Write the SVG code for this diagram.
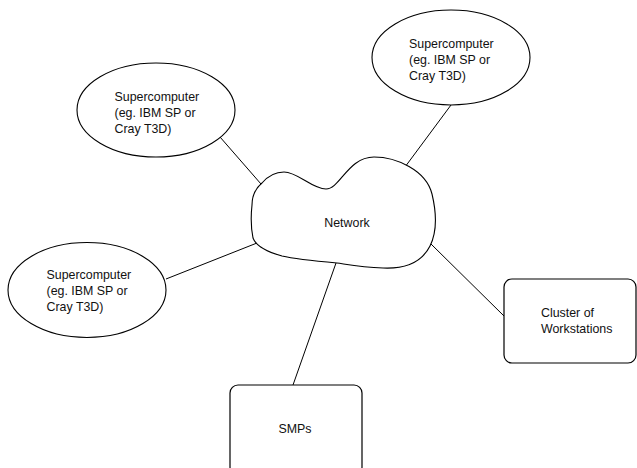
<svg xmlns="http://www.w3.org/2000/svg" width="637" height="468" viewBox="0 0 637 468">
<style>
.shape{fill:#fff;stroke:#000;stroke-width:1.1}
.box{fill:#fff;stroke:#000;stroke-width:1.2}
.conn line{stroke:#000;stroke-width:1}
text{font-family:"Liberation Sans",Arial,sans-serif;font-size:12.4px;fill:#111}
</style>
<rect width="637" height="468" fill="#fff"/>
<g id="connectors" class="conn">
<line x1="220" y1="137" x2="261" y2="184"/>
<line x1="451" y1="105" x2="405" y2="167"/>
<line x1="166" y1="279" x2="257" y2="243"/>
<line x1="431" y1="244" x2="504" y2="316"/>
<line x1="336" y1="263" x2="293" y2="385"/>
</g>
<g id="network">
<path class="shape" d="M252,205 C252,195 256,188 262,183 C268,176 276,172 284,172 C298,172 312,189 326,189 C340,189 348,157 374,157 C396,157 426,170 432,194 C437,215 437,232 430,246 C422,262 405,269 383,268 C360,267 345,264 337,263 C315,261 295,259 282,256 C268,252 256,246 253,238 C251,228 251,214 252,205 Z"/>
<text x="347" y="226.5" text-anchor="middle">Network</text>
</g>
<g id="super-top-left">
<ellipse class="shape" cx="156" cy="110" rx="79" ry="47"/>
<text x="114.5" y="100.5">Supercomputer</text>
<text x="114.5" y="116.5">(eg. IBM SP or</text>
<text x="114.5" y="132.5">Cray T3D)</text>
</g>
<g id="super-top-right">
<ellipse class="shape" cx="451" cy="57.5" rx="79" ry="47.5"/>
<text x="409" y="47.5">Supercomputer</text>
<text x="409" y="63.5">(eg. IBM SP or</text>
<text x="409" y="79.5">Cray T3D)</text>
</g>
<g id="super-bottom-left">
<ellipse class="shape" cx="87" cy="290" rx="79" ry="47.5"/>
<text x="46.5" y="279">Supercomputer</text>
<text x="46.5" y="295">(eg. IBM SP or</text>
<text x="46.5" y="311">Cray T3D)</text>
</g>
<g id="cluster">
<rect class="box" x="504" y="279" width="132" height="84" rx="8"/>
<text x="541" y="317">Cluster of</text>
<text x="541" y="333">Workstations</text>
</g>
<g id="smps">
<rect class="box" x="230" y="385" width="132" height="90" rx="8"/>
<text x="295" y="432.5" text-anchor="middle">SMPs</text>
</g>
</svg>
